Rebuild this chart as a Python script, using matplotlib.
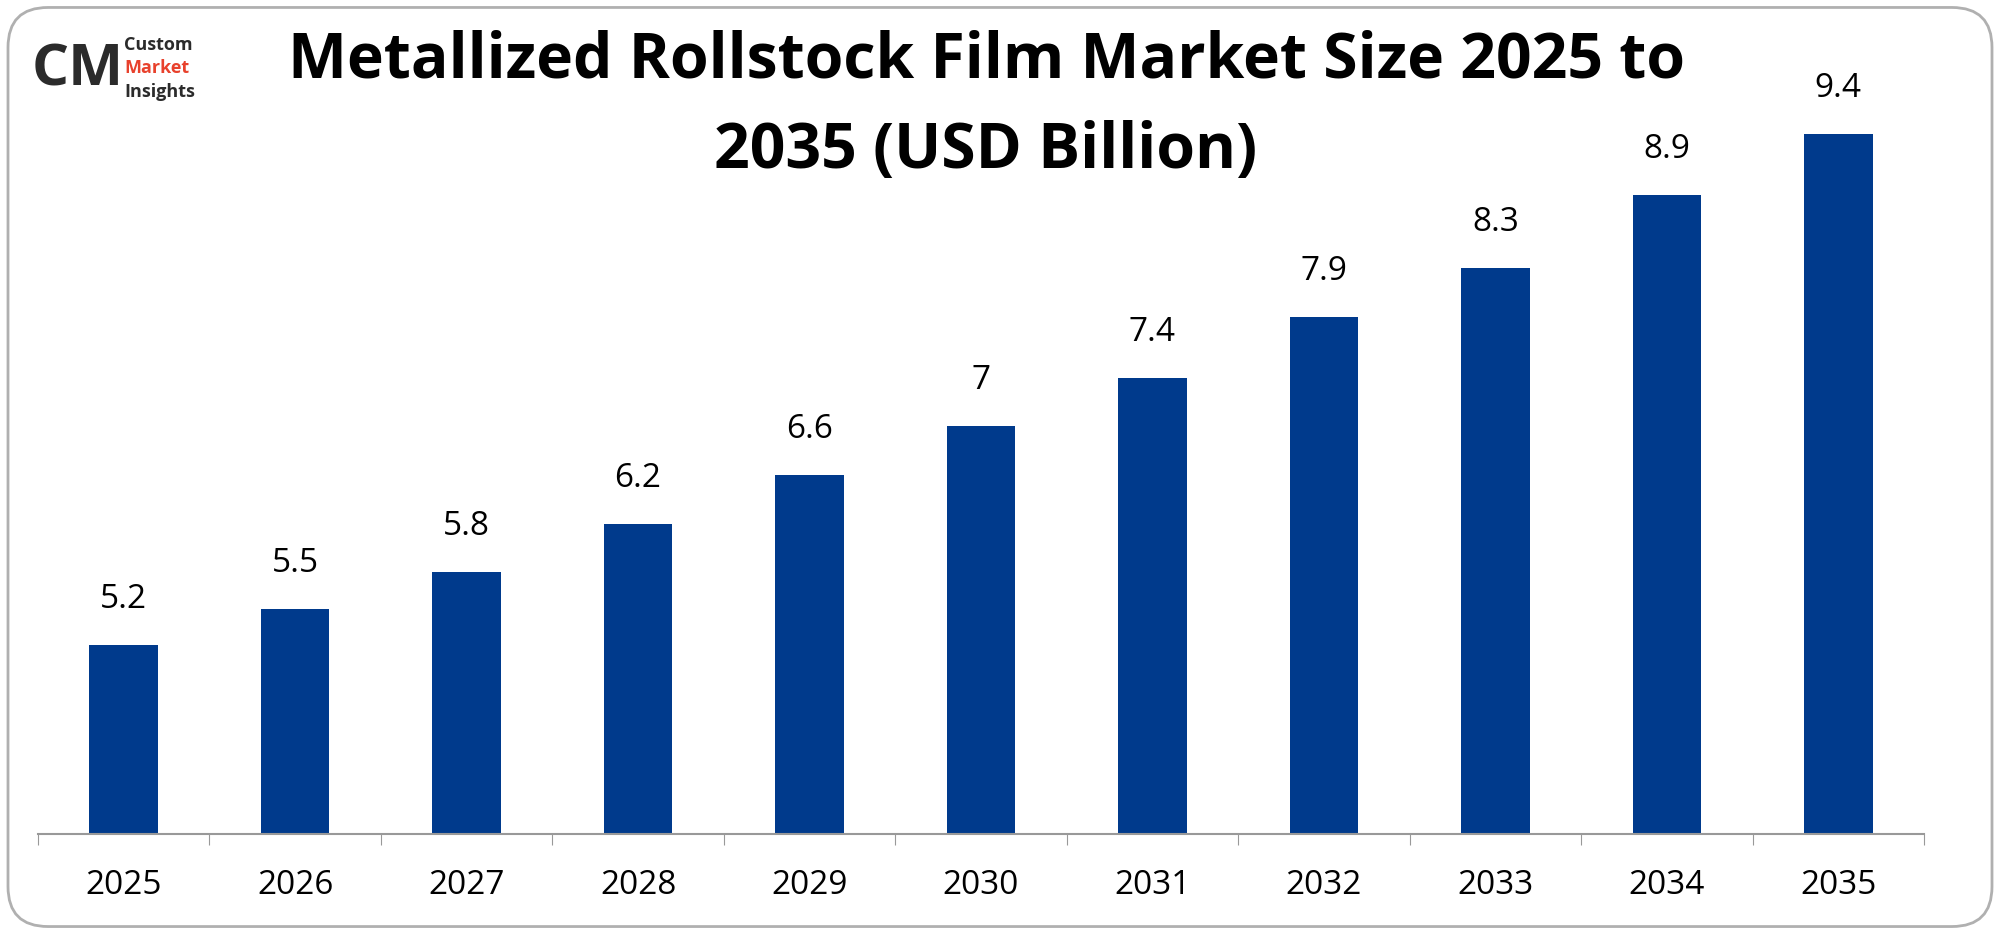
import matplotlib
matplotlib.use("Agg")
import matplotlib.pyplot as plt
from matplotlib.patches import FancyBboxPatch

years = ["2025","2026","2027","2028","2029","2030","2031","2032","2033","2034","2035"]
values = [5.2, 5.5, 5.8, 6.2, 6.6, 7.0, 7.4, 7.9, 8.3, 8.9, 9.4]
labels = ["5.2","5.5","5.8","6.2","6.6","7","7.4","7.9","8.3","8.9","9.4"]
title_lines = ["Metallized Rollstock Film Market Size 2025 to", "2035 (USD Billion)"]

plt.rcParams['font.family'] = ['Open Sans', 'DejaVu Sans']
fig = plt.figure(figsize=(20, 9.34), dpi=100)
fig.patch.set_facecolor('white')
fig.patches.append(FancyBboxPatch((0.004, 0.008), 0.992, 0.984, boxstyle="round,pad=0,rounding_size=0.02",
                                  transform=fig.transFigure, fill=False, edgecolor='#b0b0b0', linewidth=2, mutation_aspect=2.14))

ax = fig.add_axes([0.019, 0.107, 0.943, 0.852])
x = range(len(years))
ax.bar(x, values, width=0.4, color='#003a8c')
ax.set_ylim(3.65, 10.19)
ax.set_xlim(-0.5, len(years) - 0.5)
for i, (v, l) in enumerate(zip(values, labels)):
    ax.text(i, v + 0.24, l, ha='center', va='bottom', fontsize=24)
ax.set_xticks([i + 0.5 for i in range(-1, len(years))], minor=False)
ax.set_xticklabels([])
ax.set_xticks(list(x), minor=True)
ax.set_xticklabels(years, minor=True, fontsize=24)
ax.tick_params(axis='x', which='major', length=8, color='#999999')
ax.tick_params(axis='x', which='minor', length=0, pad=25)
ax.set_yticks([])
for s in ['top', 'right', 'left']:
    ax.spines[s].set_visible(False)
ax.spines['bottom'].set_color('#999999')
ax.spines['bottom'].set_linewidth(1.5)

fig.text(0.493, 0.935, title_lines[0], ha='center', va='center', fontsize=45, fontweight='bold')
fig.text(0.493, 0.838, title_lines[1], ha='center', va='center', fontsize=45, fontweight='bold')

# logo
fig.text(0.016, 0.925, "CM", fontsize=42, fontweight='bold', color='#2b2b2b', va='center', ha='left')
fig.text(0.062, 0.952, "Custom", fontsize=13, fontweight='bold', color='#2b2b2b', va='center')
fig.text(0.062, 0.927, "Market", fontsize=13, fontweight='bold', color='#e8412c', va='center')
fig.text(0.062, 0.902, "Insights", fontsize=13, fontweight='bold', color='#2b2b2b', va='center')

fig.savefig("out.png", dpi=100)
